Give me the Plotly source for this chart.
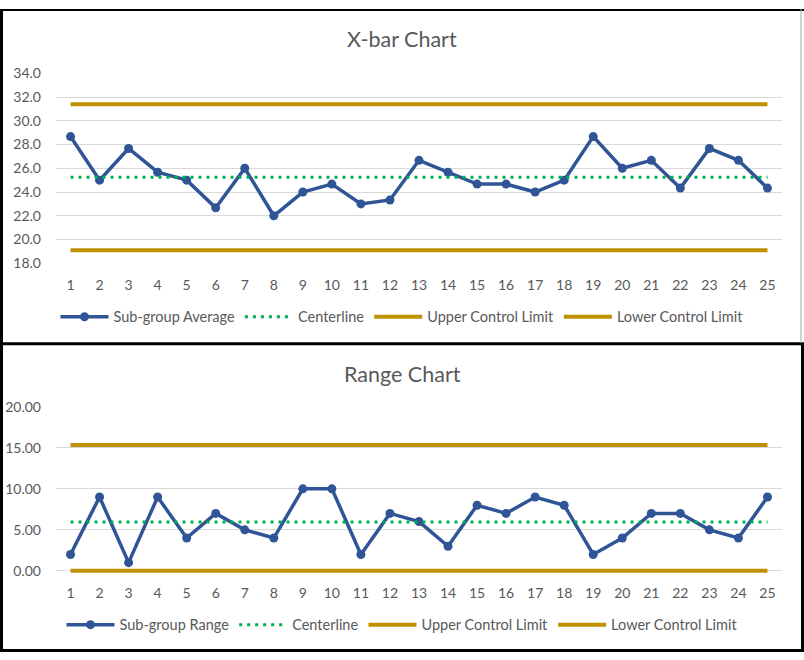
import plotly.graph_objects as go

subgroups = list(range(1, 26))
xbar_avg = [28.67, 25.0, 27.67, 25.67, 25.0, 22.67, 26.0, 22.0, 24.0, 24.67,
            23.0, 23.33, 26.67, 25.67, 24.67, 24.67, 24.0, 25.0, 28.67, 26.0,
            26.67, 24.33, 27.67, 26.67, 24.33]
xbar_center = 25.25
xbar_ucl = 31.4
xbar_lcl = 19.1

ranges = [2, 9, 1, 9, 4, 7, 5, 4, 10, 10, 2, 7, 6, 3, 8, 7, 9, 8, 2, 4, 7, 7, 5, 4, 9]
range_center = 5.96
range_ucl = 15.34
range_lcl = 0.0

xbar_ticks = [18, 20, 22, 24, 26, 28, 30, 32, 34]
range_ticks = [0, 5, 10, 15, 20]

BLUE = "#2F5597"
GREEN = "#00B050"
GOLD = "#BF9000"
GRID = "#D9D9D9"
TXT = "#595959"
FONT = "Lato, Roboto, sans-serif"

W, H = 804, 660
n = len(subgroups)

fig = go.Figure()

def add_set(first_name, values, center, ucl, lcl, xa, ya, legend):
    fig.add_trace(go.Scatter(x=subgroups, y=values, mode="lines+markers", name=first_name,
                             line=dict(color=BLUE, width=3.5), marker=dict(size=9, color=BLUE),
                             xaxis=xa, yaxis=ya, legend=legend))
    fig.add_trace(go.Scatter(x=subgroups, y=[center] * n, mode="lines", name="Centerline",
                             line=dict(color=GREEN, width=3, dash="3px,5px"),
                             xaxis=xa, yaxis=ya, legend=legend))
    fig.add_trace(go.Scatter(x=subgroups, y=[ucl] * n, mode="lines", name="Upper Control Limit",
                             line=dict(color=GOLD, width=4),
                             xaxis=xa, yaxis=ya, legend=legend))
    fig.add_trace(go.Scatter(x=subgroups, y=[lcl] * n, mode="lines", name="Lower Control Limit",
                             line=dict(color=GOLD, width=4),
                             xaxis=xa, yaxis=ya, legend=legend))

add_set("Sub-group Average", xbar_avg, xbar_center, xbar_ucl, xbar_lcl, "x", "y", "legend")
add_set("Sub-group Range", ranges, range_center, range_ucl, range_lcl, "x2", "y2", "legend2")

xdom = [56 / W, 782 / W]
top_dom = [(H - 261) / H, (H - 66) / H]
# bottom axis: 20 at 408.3px, 0 at 576.7px; range padded slightly below 0 so the LCL line is not clipped
r_pad = 0.3
ppu = (576.7 - 408.3) / 20
bot_dom = [(H - (576.7 + r_pad * ppu)) / H, (H - 408.3) / H]

TICKFONT = dict(family=FONT, size=14, color=TXT)
LEGFONT = dict(family=FONT, size=14.5, color=TXT)

xcommon = dict(range=[0.5, 25.5], tickmode="array", tickvals=subgroups,
               ticktext=[str(s) for s in subgroups], showgrid=False, zeroline=False,
               showline=False, ticks="", tickfont=TICKFONT,
               domain=xdom, fixedrange=True)

fig.update_layout(
    width=W, height=H, margin=dict(l=0, r=0, t=0, b=0),
    paper_bgcolor="white", plot_bgcolor="white",
    font=dict(family=FONT, color=TXT),
    xaxis=dict(**xcommon, anchor="y", ticklabelstandoff=12),
    xaxis2=dict(**xcommon, anchor="y2", ticklabelstandoff=10),
    yaxis=dict(range=[18, 34], domain=top_dom, tickvals=xbar_ticks,
               ticktext=[f"{v:.1f}" for v in xbar_ticks], showgrid=True,
               gridcolor=GRID, gridwidth=1, zeroline=False, ticks="",
               tickfont=TICKFONT, ticklabelstandoff=14, anchor="x"),
    yaxis2=dict(range=[-r_pad, 20], domain=bot_dom, tickvals=range_ticks,
                ticktext=[f"{v:.2f}" for v in range_ticks], showgrid=True,
                gridcolor=GRID, gridwidth=1, zeroline=False, ticks="",
                tickfont=TICKFONT, ticklabelstandoff=14, anchor="x2"),
    legend=dict(orientation="h", x=0.5, xanchor="center", y=(H - 316) / H, yanchor="middle",
                font=LEGFONT, bgcolor="rgba(0,0,0,0)", itemwidth=48),
    legend2=dict(orientation="h", x=0.5, xanchor="center", y=(H - 632) / H, yanchor="middle",
                 font=LEGFONT, bgcolor="rgba(0,0,0,0)", itemwidth=48),
    annotations=[
        dict(text="X-bar Chart", x=0.5, y=(H - 31) / H, xref="paper", yref="paper",
             showarrow=False, font=dict(family=FONT, size=21.5, color=TXT), yanchor="middle"),
        dict(text="Range Chart", x=0.5, y=(H - 375) / H, xref="paper", yref="paper",
             showarrow=False, font=dict(family=FONT, size=21.5, color=TXT), yanchor="middle"),
    ],
    shapes=[
        dict(type="line", xref="paper", yref="paper", x0=1.5 / W, x1=1.5 / W, y0=0, y1=1,
             line=dict(color="black", width=3)),
        dict(type="line", xref="paper", yref="paper", x0=0, x1=1, y0=1 - 1 / H, y1=1 - 1 / H,
             line=dict(color="black", width=2)),
        dict(type="line", xref="paper", yref="paper", x0=0, x1=1, y0=(H - 343.5) / H,
             y1=(H - 343.5) / H, line=dict(color="black", width=3)),
        dict(type="line", xref="paper", yref="paper", x0=0, x1=1, y0=1.5 / H, y1=1.5 / H,
             line=dict(color="black", width=3)),
        dict(type="line", xref="paper", yref="paper", x0=801 / W, x1=801 / W,
             y0=(H - 343) / H, y1=1, line=dict(color="#A6A6A6", width=1)),
        dict(type="line", xref="paper", yref="paper", x0=802.5 / W, x1=802.5 / W,
             y0=0, y1=(H - 343) / H, line=dict(color="black", width=3)),
    ],
)

POST = "document.body.style.margin='0';document.body.style.overflow='hidden';"

fig.write_html("out.html", config={"displayModeBar": False}, post_script=POST)
